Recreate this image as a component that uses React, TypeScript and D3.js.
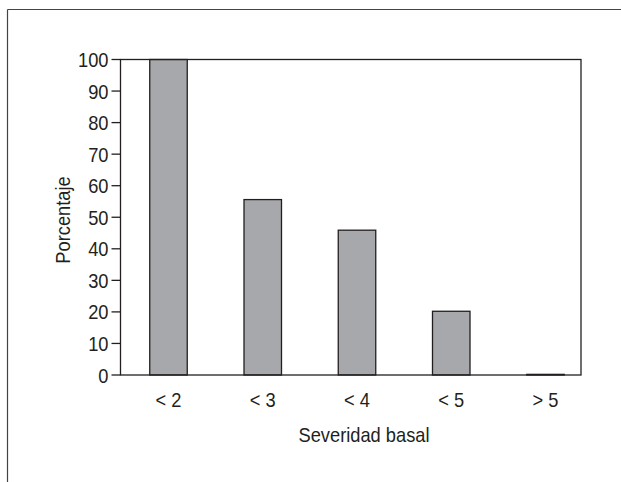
import React from "react";
import * as d3 from "d3";

const categories = ["< 2", "< 3", "< 4", "< 5", "> 5"];
const values = [100, 55.6, 45.9, 20.2, 0.2];
const yTicks = [0, 10, 20, 30, 40, 50, 60, 70, 80, 90, 100];
const xTitle = "Severidad basal";
const yTitle = "Porcentaje";

const W = 621;
const H = 482;
const plot = { left: 120.5, right: 581, top: 59.5, bottom: 375 };
const FONT = "'Liberation Sans', Arial, sans-serif";
const INK = "#231f20";
const FS = 21;
const SX = 0.87;

function CText({ x, y, anchor, children, rotate = 0 }: any) {
  return (
    <text
      transform={`translate(${x},${y}) rotate(${rotate}) scale(${SX},1)`}
      textAnchor={anchor}
      fontSize={FS}
      fill={INK}
    >
      {children}
    </text>
  );
}

export default function App() {
  const x = d3.scalePoint<string>().domain(categories).range([168.5, 545.5]);
  const y = d3.scaleLinear().domain([0, 100]).range([plot.bottom, plot.top]);
  const barW = 37.5;

  return (
    <svg
      width={W}
      height={H}
      style={{ position: "absolute", left: 0, top: 0, background: "#fff" }}
      fontFamily={FONT}
    >
      {/* outer frame */}
      <line x1={7.5} y1={9.5} x2={W} y2={9.5} stroke="#444" strokeWidth={1.2} />
      <line x1={7.5} y1={9.5} x2={7.5} y2={H} stroke="#444" strokeWidth={1.2} />

      {/* bars */}
      {categories.map((c, i) => {
        const cx = x(c)!;
        const top = y(values[i]);
        return (
          <rect
            key={c}
            x={cx - barW / 2}
            y={top}
            width={barW}
            height={Math.max(0.5, plot.bottom - top)}
            fill="#a7a8ab"
            stroke={INK}
            strokeWidth={1.3}
          />
        );
      })}

      {/* plot frame */}
      <rect
        x={plot.left}
        y={plot.top}
        width={plot.right - plot.left}
        height={plot.bottom - plot.top}
        fill="none"
        stroke={INK}
        strokeWidth={1.3}
      />

      {/* y ticks */}
      {yTicks.map((t) => (
        <g key={t}>
          <line x1={plot.left - 9} x2={plot.left} y1={y(t)} y2={y(t)} stroke={INK} strokeWidth={1.3} />
          <CText x={plot.left - 12} y={y(t) + 7.5} anchor="end">
            {t}
          </CText>
        </g>
      ))}

      {/* x labels */}
      {categories.map((c) => (
        <CText key={c} x={x(c)!} y={407} anchor="middle">
          {c}
        </CText>
      ))}

      <CText x={364} y={442} anchor="middle">
        {xTitle}
      </CText>
      <CText x={70} y={220} anchor="middle" rotate={-90}>
        {yTitle}
      </CText>
    </svg>
  );
}
